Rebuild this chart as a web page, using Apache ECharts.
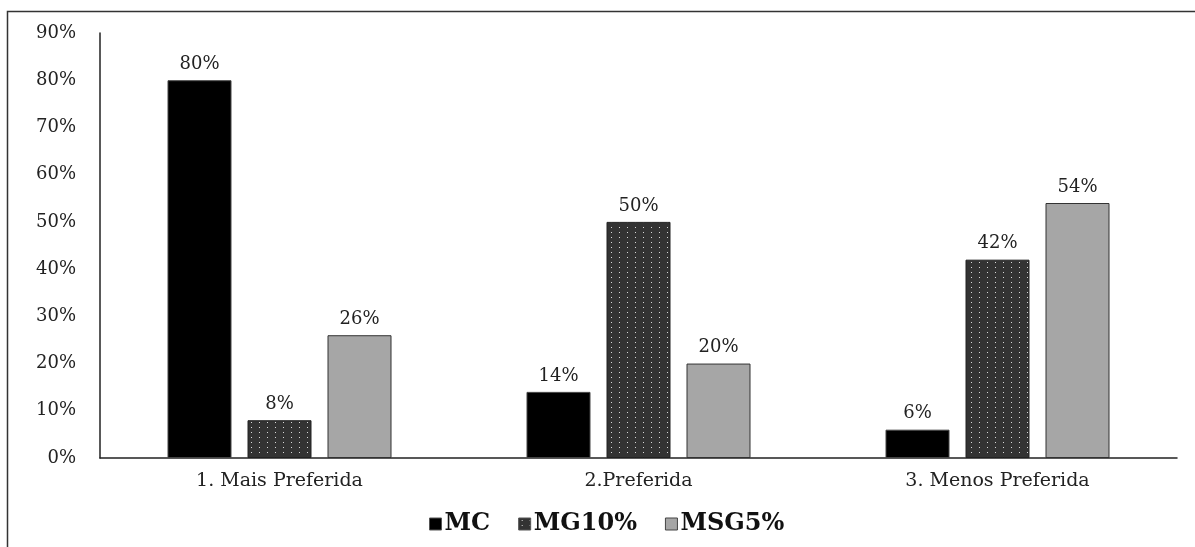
<!DOCTYPE html>
<html>
<head>
<meta charset="utf-8">
<script src="https://cdn.jsdelivr.net/npm/echarts@6/dist/echarts.min.js"></script>
<style>
html,body{margin:0;padding:0;background:#fff;}
#c{width:1195px;height:547px;}
</style>
</head>
<body>
<div id="c"></div>
<script>
const categories = ['1. Mais Preferida', '2.Preferida', '3. Menos Preferida'];
const seriesNames = ['MC', 'MG10%', 'MSG5%'];
const mcValues = [80, 14, 6];
const mg10Values = [8, 50, 42];
const msg5Values = [26, 20, 54];
const yTicks = [0, 10, 20, 30, 40, 50, 60, 70, 80, 90];

function makeDots() {
  const cv = document.createElement('canvas');
  cv.width = 8; cv.height = 5;
  const ctx = cv.getContext('2d');
  ctx.fillStyle = '#333333';
  ctx.fillRect(0, 0, 8, 5);
  ctx.fillStyle = '#d8d8d8';
  ctx.fillRect(3, 2, 1, 1);
  return cv;
}
const dotPattern = { image: makeDots(), repeat: 'repeat' };

const font = 'DejaVu Serif';
const chart = echarts.init(document.getElementById('c'), null, { renderer: 'canvas' });

const labelCfg = {
  show: true, position: 'top', distance: 7,
  formatter: p => p.value + '%',
  fontFamily: font, fontSize: 18, color: '#222'
};

chart.setOption({
  animation: false,
  backgroundColor: '#fff',
  graphic: [
    { type: 'polyline', shape: { points: [[7.5, 547], [7.5, 11.5], [1195, 11.5]] },
      style: { stroke: '#333', lineWidth: 1.5, fill: null } }
  ],
  grid: { left: 100, right: 18, top: 33, bottom: 89, containLabel: false },
  legend: {
    top: 507, left: 424,
    icon: 'rect',
    itemWidth: 12, itemHeight: 12, itemGap: 28,
    textStyle: { fontFamily: font, fontWeight: 'bold', fontSize: 24, color: '#111', padding: [0, 0, 0, -2] },
    data: [
      { name: seriesNames[0], itemStyle: { color: '#000', borderColor: '#555', borderWidth: 1 } },
      { name: seriesNames[1], itemStyle: { color: dotPattern, borderColor: '#555', borderWidth: 1 } },
      { name: seriesNames[2], itemStyle: { color: '#a6a6a6', borderColor: '#444', borderWidth: 1 } }
    ]
  },
  xAxis: {
    type: 'category', data: categories,
    axisLine: { lineStyle: { color: '#222', width: 1.5 } },
    axisTick: { show: false },
    axisLabel: { fontFamily: font, fontSize: 19, color: '#222', margin: 14 }
  },
  yAxis: {
    type: 'value', min: 0, max: 90, interval: 10,
    splitLine: { show: false },
    axisLine: { show: true, lineStyle: { color: '#222', width: 1.5 } },
    axisTick: { show: false },
    axisLabel: { fontFamily: font, fontSize: 18, color: '#222', margin: 24,
      formatter: v => yTicks.includes(v) ? v + '%' : '' }
  },
  series: [
    { name: seriesNames[0], type: 'bar', data: mcValues, barWidth: 64, barGap: '25%',
      itemStyle: { color: '#000', borderColor: '#444', borderWidth: 1 }, label: labelCfg },
    { name: seriesNames[1], type: 'bar', data: mg10Values, barWidth: 64,
      itemStyle: { color: dotPattern, borderColor: '#222', borderWidth: 1 }, label: labelCfg },
    { name: seriesNames[2], type: 'bar', data: msg5Values, barWidth: 64,
      itemStyle: { color: '#a6a6a6', borderColor: '#333', borderWidth: 1 }, label: labelCfg }
  ]
});
</script>
</body>
</html>
